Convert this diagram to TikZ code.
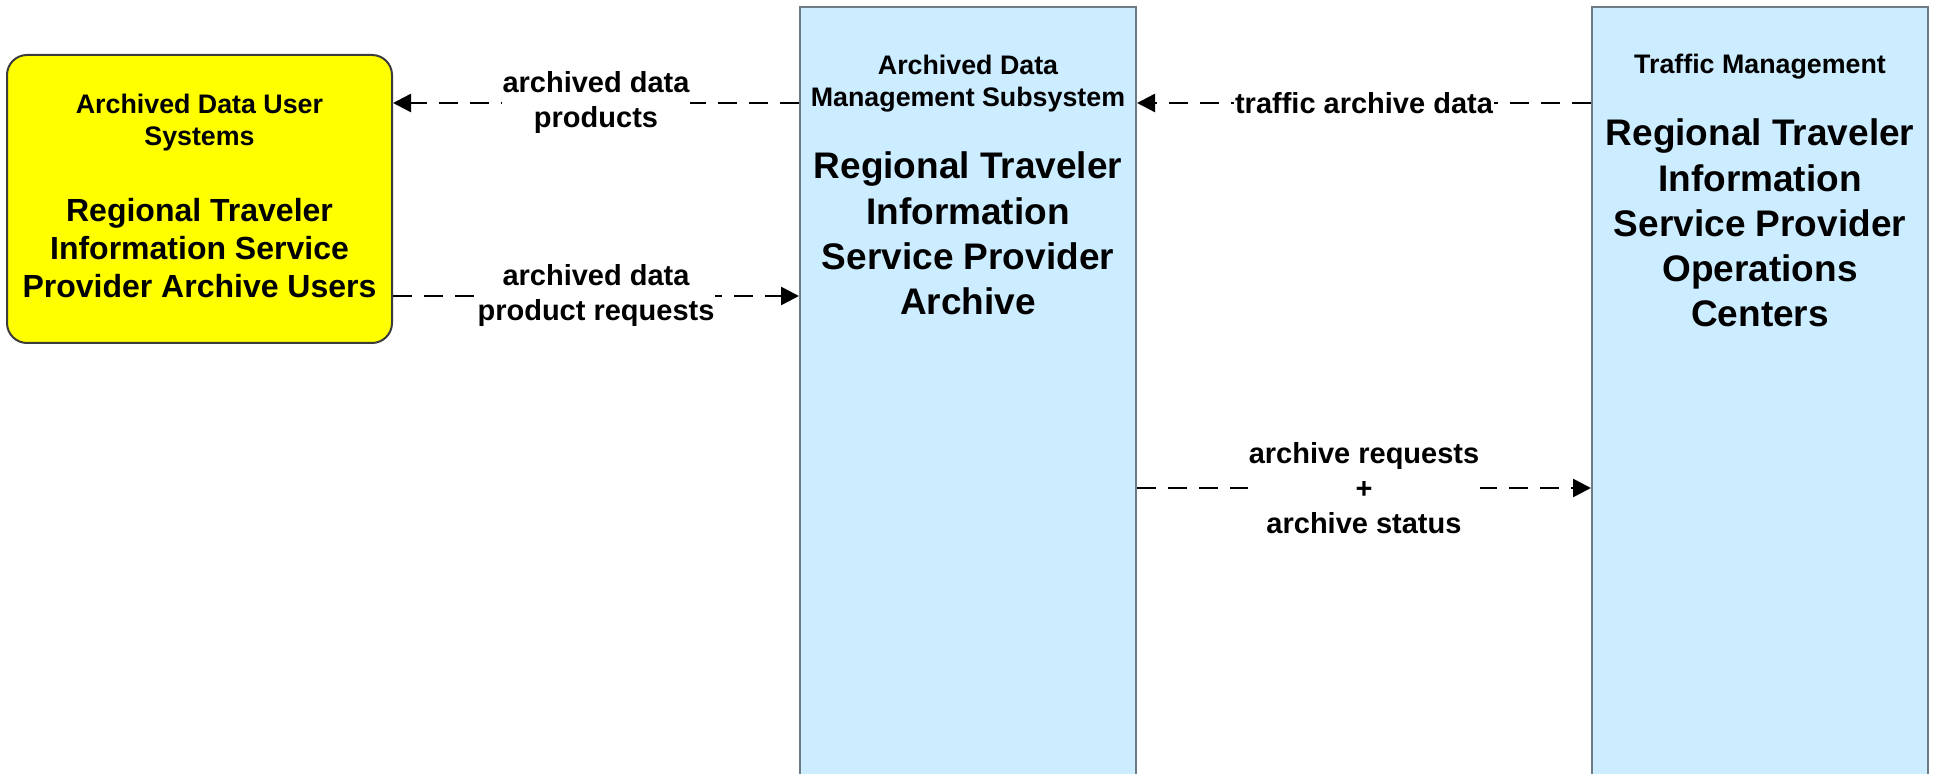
\documentclass[tikz,border=0pt]{standalone}
\usepackage{fontspec}
\setmainfont{Liberation Sans}
\usetikzlibrary{arrows.meta}
\definecolor{boxblue}{RGB}{204,236,255}
\definecolor{boxline}{RGB}{110,122,132}
\definecolor{usrline}{RGB}{60,60,60}
\definecolor{usrfill}{RGB}{255,255,0}
\newcommand\stk[1]{\vtop{\halign{\hfil##\hfil\cr#1\crcr}}}
\begin{document}
\begin{tikzpicture}[x=0.5pt,y=-0.5pt,
  sysbox/.style={draw=boxline,line width=1pt,fill=boxblue,inner sep=0pt,minimum width=168pt,minimum height=396.5pt},
  usrbox/.style={draw=usrline,line width=1pt,fill=usrfill,rounded corners=10pt,inner sep=0pt,minimum width=192.5pt,minimum height=144pt},
  small/.style={anchor=base,inner sep=0pt,font=\fontsize{13.4}{16}\selectfont\bfseries},
  big/.style={anchor=base,inner sep=0pt,font=\fontsize{18.5}{22.6}\selectfont\bfseries},
  bigl/.style={anchor=base,inner sep=0pt,font=\fontsize{16}{19}\selectfont\bfseries},
  flow/.style={draw=black,line width=1.2pt,dash pattern=on 9.5pt off 6pt,-{Triangle[length=9pt,width=9pt]}},
  lbl/.style={fill=white,inner sep=0.5pt,align=center,font=\fontsize{14.5}{17.5}\selectfont\bfseries}]
\useasboundingbox (0,0) rectangle (1937,774);
% boxes
\node[usrbox] (usr) at (199.5,199) {};
\node[sysbox] (mid) at (968,403.5) {};
\node[sysbox] (ops) at (1760,403.5) {};
% box texts
\node[small] (usrT) at (199.5,114) {\stk{Archived Data User\cr Systems}};
\node[bigl] (usrN) at (199.5,222) {\stk{Regional Traveler\cr Information Service\cr Provider Archive Users}};
\node[small] (midT) at (968,75) {\stk{Archived Data\cr Management Subsystem}};
\node[big] (midN) at (968,179) {\stk{Regional Traveler\cr Information\cr Service Provider\cr Archive}};
\node[small] (opsT) at (1760,74) {\stk{Traffic Management}};
\node[big] (opsN) at (1760,146) {\stk{Regional Traveler\cr Information\cr Service Provider\cr Operations\cr Centers}};
% levels
\coordinate (yA) at (0,103);
\coordinate (yB) at (0,296);
\coordinate (yC) at (0,488);
% flows
\draw[flow] (mid.west |- yA) -- (usr.east |- yA) node[midway,lbl] {archived data\\products};
\draw[flow] (usr.east |- yB) -- (mid.west |- yB) node[midway,lbl] {archived data\\product requests};
\draw[flow] (ops.west |- yA) -- (mid.east |- yA) node[midway,lbl] {traffic archive data};
\draw[flow] (mid.east |- yC) -- (ops.west |- yC) node[midway,lbl] {archive requests\\+\\archive status};
\end{tikzpicture}
\end{document}
